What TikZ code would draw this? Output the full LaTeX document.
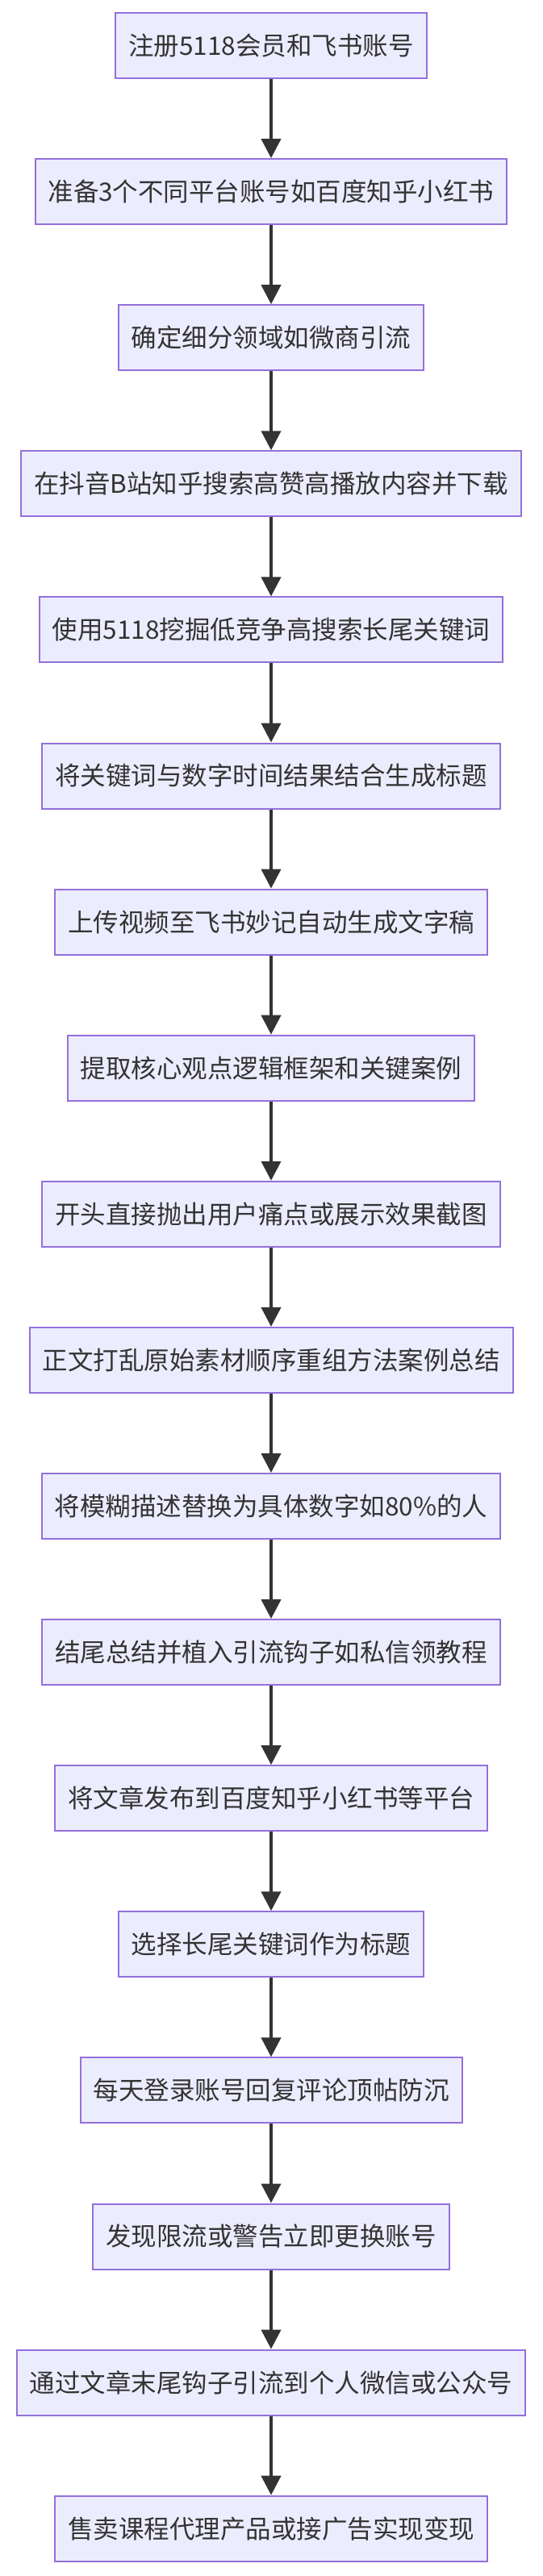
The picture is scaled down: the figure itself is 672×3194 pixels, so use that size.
\documentclass[tikz,border=0pt]{standalone}
\usepackage{fontspec}
\setmainfont{Noto Sans CJK SC}
\usetikzlibrary{arrows.meta}
\definecolor{nodefill}{HTML}{ECECFF}
\definecolor{nodeborder}{HTML}{9370DB}
\definecolor{linecol}{HTML}{333333}
\tikzset{
  stepbox/.style={draw=nodeborder, fill=nodefill, line width=2pt,
    minimum height=81pt, inner xsep=16pt, inner ysep=0pt,
    text=linecol, font=\fontsize{31.5}{36}\selectfont, anchor=center},
  flow/.style={draw=linecol, line width=4pt,
    -{Triangle[length=24pt,width=24pt]}}
}
\begin{document}
\begin{tikzpicture}[x=1pt,y=-1pt]
\useasboundingbox (0,0) rectangle (672,3194);
\def\dy{181.1}
\node[stepbox] (n1)  at (336,56.5+0*\dy)  {注册5118会员和飞书账号};
\node[stepbox] (n2)  at (336,56.5+1*\dy)  {准备3个不同平台账号如百度知乎小红书};
\node[stepbox] (n3)  at (336,56.5+2*\dy)  {确定细分领域如微商引流};
\node[stepbox] (n4)  at (336,56.5+3*\dy)  {在抖音B站知乎搜索高赞高播放内容并下载};
\node[stepbox] (n5)  at (336,56.5+4*\dy)  {使用5118挖掘低竞争高搜索长尾关键词};
\node[stepbox] (n6)  at (336,56.5+5*\dy)  {将关键词与数字时间结果结合生成标题};
\node[stepbox] (n7)  at (336,56.5+6*\dy)  {上传视频至飞书妙记自动生成文字稿};
\node[stepbox] (n8)  at (336,56.5+7*\dy)  {提取核心观点逻辑框架和关键案例};
\node[stepbox] (n9)  at (336,56.5+8*\dy)  {开头直接抛出用户痛点或展示效果截图};
\node[stepbox] (n10) at (336,56.5+9*\dy)  {正文打乱原始素材顺序重组方法案例总结};
\node[stepbox] (n11) at (336,56.5+10*\dy) {将模糊描述替换为具体数字如80\%的人};
\node[stepbox] (n12) at (336,56.5+11*\dy) {结尾总结并植入引流钩子如私信领教程};
\node[stepbox] (n13) at (336,56.5+12*\dy) {将文章发布到百度知乎小红书等平台};
\node[stepbox] (n14) at (336,56.5+13*\dy) {选择长尾关键词作为标题};
\node[stepbox] (n15) at (336,56.5+14*\dy) {每天登录账号回复评论顶帖防沉};
\node[stepbox] (n16) at (336,56.5+15*\dy) {发现限流或警告立即更换账号};
\node[stepbox] (n17) at (336,56.5+16*\dy) {通过文章末尾钩子引流到个人微信或公众号};
\node[stepbox] (n18) at (336,56.5+17*\dy) {售卖课程代理产品或接广告实现变现};
\foreach \a/\b in {n1/n2,n2/n3,n3/n4,n4/n5,n5/n6,n6/n7,n7/n8,n8/n9,n9/n10,n10/n11,n11/n12,n12/n13,n13/n14,n14/n15,n15/n16,n16/n17,n17/n18}
  \draw[flow] (\a.south) -- (\b.north);
\end{tikzpicture}
\end{document}
